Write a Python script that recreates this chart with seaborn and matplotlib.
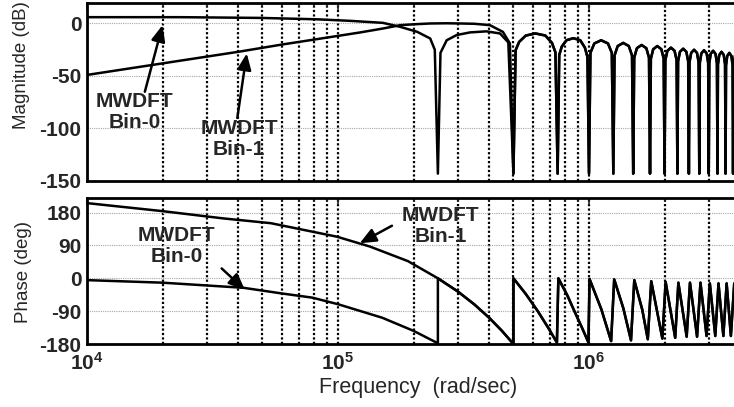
import numpy as np
import matplotlib
matplotlib.use('Agg')
import matplotlib.pyplot as plt
import matplotlib.ticker as mticker
import seaborn as sns

sns.set_style('white')
plt.rcParams['font.family'] = ['Liberation Sans', 'DejaVu Sans']
plt.rcParams['axes.unicode_minus'] = False
plt.rcParams['mathtext.fontset'] = 'custom'
plt.rcParams['mathtext.rm'] = 'Liberation Sans:bold'
plt.rcParams['mathtext.default'] = 'rm'

# all frequencies below are in units of 1e5 rad/sec
UNIT = 1e5

# --- magnitude (dB) ---
bin0_mag_f = [0.1, 0.235, 0.49, 0.82, 1.12, 1.51, 1.77, 2.07, 2.33, 2.43, 2.5,
              2.56, 2.71, 2.97, 3.36, 3.9, 4.42, 4.77, 5.0]
bin0_mag_db = [6, 6, 5.3, 4, 2.5, 0.6, -3.2, -8, -14.3, -25, -143,
               -28, -16, -11, -8.5, -7.5, -9.5, -18, -143]

bin1_mag_f = [0.1, 0.2, 0.4, 0.6, 1.02, 1.22, 1.51, 1.77, 2.0, 2.33, 2.7, 3.06,
              3.5, 4.03, 4.54, 4.84, 5.0]
bin1_mag_db = [-49, -38, -27, -20, -11.5, -8.6, -4.8, -1.6, -0.8, 0, 0.2, 0,
               -0.3, -1.6, -8, -19, -143]

# lobes above 5e5 rad/sec, where both bins lie on top of each other
tail_mag_f = [5.10, 5.27, 5.60, 6.12, 6.70, 7.12, 7.35, 7.5,
              7.61, 7.79, 8.13, 8.66, 9.23, 9.63, 9.86, 10.0,
              10.13, 10.50, 11.18, 11.90, 12.33, 12.5,
              12.64, 13.01, 13.69, 14.41, 14.84, 15.0,
              15.14, 15.52, 16.20, 16.92, 17.34, 17.5,
              17.64, 18.02, 18.71, 19.42, 19.84, 20.0,
              20.14, 20.53, 21.21, 21.92, 22.34, 22.5,
              22.64, 23.03, 23.72, 24.43, 24.84, 25.0,
              25.14, 25.53, 26.22, 26.93, 27.34, 27.5,
              27.64, 28.03, 28.72, 29.43, 29.84, 30.0,
              30.14, 30.53, 31.22, 31.93, 32.34, 32.5,
              32.64, 33.03, 33.73, 34.43, 34.84, 35.0,
              35.15, 35.54, 36.23, 36.94, 37.34, 37.5,
              37.65, 38.2]
tail_mag_db = [-25.5, -17.5, -11.5, -9.5, -11.5, -18.5, -27.5, -143,
               -30, -22, -16, -14, -16, -23, -32, -143,
               -28, -19, -16, -19, -28, -143,
               -30.5, -21.5, -18.5, -21.5, -30.5, -143,
               -32.5, -23.5, -20.5, -23.5, -32.5, -143,
               -33.5, -24.5, -21.5, -24.5, -33.5, -143,
               -35, -26, -23, -26, -35, -143,
               -36, -27, -24, -27, -36, -143,
               -37, -28, -25, -28, -37, -143,
               -37.5, -28.5, -25.5, -28.5, -37.5, -143,
               -38, -29, -26, -29, -38, -143,
               -39, -30, -27, -30, -39, -143,
               -40, -31, -28, -31, -40, -143,
               -40, -30]

# --- phase (deg) ---
bin0_ph_f = [0.1, 0.2, 0.42, 0.59, 0.79, 1.0, 1.5, 2.0, 2.5, 2.5]
bin0_ph_deg = [-5, -12, -26, -41, -53, -71, -108, -144, -178, 0]

bin1_ph_f = [0.1, 0.2, 0.35, 0.54, 0.99, 1.34, 1.9, 2.5]
bin1_ph_deg = [206, 184, 164, 151, 114, 87, 47, 0]

tail_ph_f = [3.0, 3.5, 4.0, 4.5, 5.0, 5.0, 5.6, 6.25, 6.9, 7.45, 7.55, 8.2, 8.8,
             9.4, 9.95, 10.05, 11.2, 12.25, 12.6, 13.7, 14.7, 15.15, 16.3,
             17.15, 17.7, 19.6, 20.2, 22.05, 22.7, 24.5, 25.25, 26.95, 27.8,
             29.4, 30.3, 31.85, 32.8, 34.3, 35.35, 36.75, 37.9, 38.3]
tail_ph_deg = [-36, -72, -108, -144, -180, 0, -43, -90, -137, -176, 0, -47,
               -94, -137, -176, -2, -85, -172, -3, -82, -170, -5, -86,
               -167, -8, -165, -10, -163, -12, -160, -12, -160, -12,
               -158, -14, -158, -14, -158, -14, -158, -14, -60]

mag_yticks = [-150, -100, -50, 0]
ph_yticks = [-180, -90, 0, 90, 180]


def curve(ax, f, y):
    sns.lineplot(x=np.array(f) * UNIT, y=y, ax=ax, color='k', lw=1.8,
                 sort=False, estimator=None)


def style_axes(ax, yticks, ylim):
    ax.set_xscale('log')
    ax.set_xlim(1e4, 10 ** (4 + 647 / 251))
    ax.set_ylim(*ylim)
    ax.set_yticks(yticks)
    ax.xaxis.set_major_locator(mticker.LogLocator(base=10, numticks=10))
    ax.xaxis.set_minor_locator(mticker.LogLocator(base=10, subs=range(2, 10), numticks=20))
    ax.xaxis.set_minor_formatter(mticker.NullFormatter())
    ax.set_axisbelow(True)
    ax.grid(True, which='both', axis='x', color='k', ls=(0, (1, 1)), lw=1.6)
    ax.grid(True, which='major', axis='y', color='#a8a8a8', ls=(0, (1, 1)), lw=0.8)
    ax.tick_params(which='both', direction='in', top=True, right=False, width=1.2)
    ax.tick_params(which='major', length=5, labelsize=15, pad=4)
    ax.tick_params(which='minor', length=3)
    for lab in ax.get_yticklabels():
        lab.set_fontweight('bold')
    for name, sp in ax.spines.items():
        sp.set_linewidth(2)
        sp.set_color('k')
    ax.spines['right'].set_visible(False)


fig = plt.figure(figsize=(7.34, 4.07), dpi=100)
ax1 = fig.add_axes([87 / 734, 1 - 181 / 407, 647 / 734, 178 / 407])
ax2 = fig.add_axes([87 / 734, 1 - 344 / 407, 647 / 734, 146 / 407])

curve(ax1, bin0_mag_f + tail_mag_f, bin0_mag_db + tail_mag_db)
curve(ax1, bin1_mag_f + tail_mag_f, bin1_mag_db + tail_mag_db)
curve(ax2, bin0_ph_f + tail_ph_f, bin0_ph_deg + tail_ph_deg)
curve(ax2, bin1_ph_f + tail_ph_f, bin1_ph_deg + tail_ph_deg)

style_axes(ax1, mag_yticks, (-150, 19.5))
style_axes(ax2, ph_yticks, (-180, 220))
ax1.set_xticklabels([])
ax2.xaxis.set_major_formatter(
    mticker.FuncFormatter(lambda v, p: r'$10^{%d}$' % round(np.log10(v))))
ax2.tick_params(axis='x', which='major', pad=6)

ax1.set_ylabel('Magnitude (dB)', fontsize=13.5)
ax1.yaxis.set_label_coords(-0.088, 0.652)
ax2.set_ylabel('Phase (deg)', fontsize=13.5)
ax2.yaxis.set_label_coords(-0.085, 0.49)
ax2.set_xlabel('Frequency  (rad/sec)', fontsize=15.5, va='center')
ax2.xaxis.set_label_coords(0.5116, -0.295)

txt = dict(fontsize=15, fontweight='bold', ha='center', va='center', linespacing=1.15)
arr = dict(arrowstyle='-|>,head_length=0.7,head_width=0.3', color='k', lw=1.8,
           mutation_scale=14, shrinkA=0, shrinkB=0)

ax1.text(1.55e4, -84, 'MWDFT\nBin-0', **txt)
ax1.annotate('', xy=(2.0e4, -1.5), xytext=(1.70e4, -65), arrowprops=arr)
ax1.text(4.04e4, -110, 'MWDFT\nBin-1', **txt)
ax1.annotate('', xy=(4.33e4, -28.5), xytext=(3.97e4, -90), arrowprops=arr)

ax2.text(2.28e4, 88, 'MWDFT\nBin-0', **txt)
ax2.annotate('', xy=(4.26e4, -32), xytext=(3.44e4, 27), arrowprops=arr)
ax2.text(2.57e5, 143, 'MWDFT\nBin-1', **txt)
ax2.annotate('', xy=(1.22e5, 96), xytext=(1.64e5, 144), arrowprops=arr)

fig.savefig('out.png', dpi=100)
